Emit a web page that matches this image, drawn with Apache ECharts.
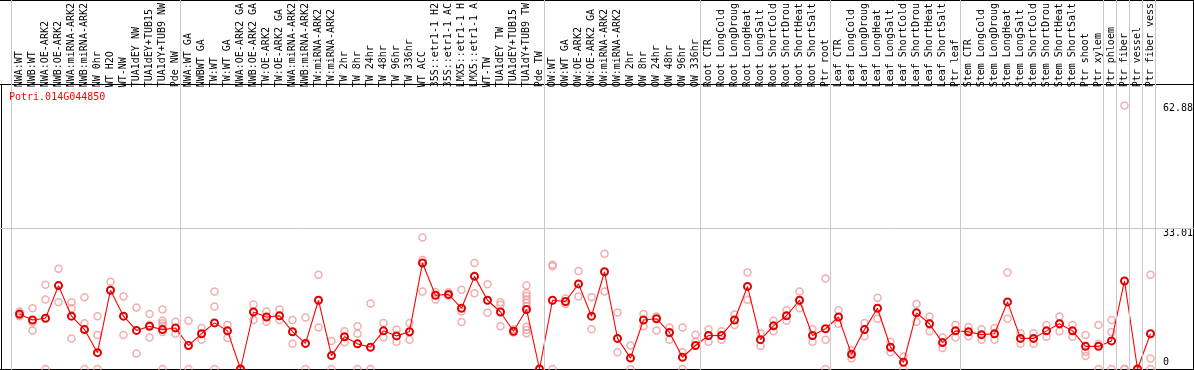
<!DOCTYPE html>
<html>
<head>
<meta charset="utf-8">
<script src="https://cdn.jsdelivr.net/npm/echarts@6/dist/echarts.min.js"></script>
<style>
html,body{margin:0;padding:0;background:#fff;}
#chart{width:1194px;height:370px;}
</style>
</head>
<body>
<div id="chart"></div>
<script>
const geneTitle = 'Potri.014G044850';

const categories = [
  'NWA:WT','NWB:WT','NWA:OE-ARK2','NWB:OE-ARK2','NWA:miRNA-ARK2','NWB:miRNA-ARK2','NW 0hr','WT H2O','WT-NW','TUA1dEY NW','TUA1dEY+TUB15','TUA1dY+TUB9 NW','Pde NW',
  'NWA:WT GA','NWBWT GA','TW:WT','TW:WT GA','NWA:OE-ARK2 GA','NWB:OE-ARK2 GA','TW:OE-ARK2','TW:OE-ARK2 GA','NWA:miRNA-ARK2','NWB:miRNA-ARK2','TW:miRNA-ARK2','TW:miRNA-ARK2','TW 2hr','TW 8hr','TW 24hr','TW 48hr','TW 96hr','TW 336hr','WT ACC','35S::etr1-1 H2','35S::etr1-1 AC','LMX5::etr1-1 H','LMX5::etr1-1 A','WT-TW','TUA1dEY TW','TUA1dEY+TUB15','TUA1dY+TUB9 TW','Pde TW',
  'OW:WT','OW:WT GA','OW:OE-ARK2','OW:OE-ARK2 GA','OW:miRNA-ARK2','OW:miRNA-ARK2','OW 2hr','OW 8hr','OW 24hr','OW 48hr','OW 96hr','OW 336hr',
  'Root CTR','Root LongCold','Root LongDroug','Root LongHeat','Root LongSalt','Root ShortCold','Root ShortDrou','Root ShortHeat','Root ShortSalt','Ptr root',
  'Leaf CTR','Leaf LongCold','Leaf LongDroug','Leaf LongHeat','Leaf LongSalt','Leaf ShortCold','Leaf ShortDrou','Leaf ShortHeat','Leaf ShortSalt','Ptr leaf',
  'Stem CTR','Stem LongCold','Stem LongDroug','Stem LongHeat','Stem LongSalt','Stem ShortCold','Stem ShortDrou','Stem ShortHeat','Stem ShortSalt','Ptr shoot','Ptr xylem',
  'Ptr phloem','Ptr fiber','Ptr vessel','Ptr fiber vess'
];

// group boundaries (index of first category of each group, plus the end)
const groupBreaks = [0, 13, 41, 53, 63, 73, 84, 85, 86, 87, 88];

const meanValues = [
  13.1, 11.7, 12.1, 19.9, 12.6, 9.4, 3.9, 18.8, 12.6, 9.2, 10.2, 9.4, 9.8,
  5.6, 8.4, 11.0, 9.1, 0, 13.6, 12.4, 12.7, 8.9, 6.1, 16.4, 3.2, 7.7, 6.0, 5.2, 9.1, 7.9, 8.9, 25.3, 17.6, 17.8, 14.5, 22.1, 16.4, 13.6, 9.0, 14.2, 0,
  16.4, 16.1, 20.3, 12.6, 23.2, 7.3, 2.6, 11.7, 12.0, 8.7, 2.8, 5.6,
  8.0, 8.0, 11.7, 19.7, 7.0, 10.3, 12.7, 16.4, 8.0, 9.6,
  12.4, 3.5, 9.4, 14.5, 5.2, 1.6, 13.4, 10.8, 6.3, 9.1,
  8.9, 8.2, 8.4, 16.0, 7.3, 7.3, 9.1, 10.8, 9.1, 5.4, 5.4,
  6.7, 21.0, 0, 8.4
];

const replicateValues = [
  [13.7, 12.9, 12.6], [14.5, 11.1, 9.2], [20.1, 16.6, 0], [23.9, 19.9, 15.9], [15.9, 14.5, 7.3], [17.1, 10.9, 0], [12.6, 8.1, 0], [20.8, 18.8], [17.3, 8.1], [14.7, 3.7], [13.1, 10.5, 7.5], [14.2, 11.5, 10.9, 10.3, 8.8, 0], [11.3, 8.4],
  [11.5, 0], [9.8, 7.0], [18.5, 14.9, 0], [10.5, 7.4], [0, 0], [15.4, 11.7], [13.7, 11.3], [14.2, 11.7], [11.7, 6.0], [12.3, 0], [22.5, 9.9], [6.7, 0], [9.0, 6.4], [10.2, 8.4, 0], [15.6, 0], [11.0, 7.6], [9.4, 6.5], [11.0, 7.0], [31.4, 26.0, 18.5], [18.3, 16.6], [18.3, 17.4], [18.9, 13.7, 11.2], [25.3, 18.1], [20.2, 13.4], [15.9, 15.3, 10.2], [9.5, 8.7], [19.9, 18.1, 17.4, 16.6, 15.8, 15.0, 10.1, 9.3, 8.5], [0],
  [24.9, 24.5, 0], [16.8, 15.5], [23.4, 17.3], [17.1, 9.5], [27.5, 18.5], [13.5, 4.0], [5.6, 0], [13.1, 10.2], [12.5, 9.2], [9.9, 7.0], [9.9, 4.0, 0], [8.2, 6.5],
  [9.5, 6.5], [9.0, 7.0], [13.0, 10.5], [23.0, 16.5], [8.5, 5.5], [11.5, 9.0], [14.0, 11.5], [18.5, 14.5], [9.5, 6.5], [21.6, 7.0, 0],
  [14.0, 10.8], [4.5, 2.5], [11.0, 7.8], [17.0, 12.0], [6.5, 4.0], [3.0, 0], [15.5, 11.3], [12.5, 9.0], [7.5, 5.0], [10.5, 7.5],
  [10.0, 7.8], [9.5, 7.0], [9.8, 7.0], [23.0, 12.0], [8.5, 6.0], [8.5, 6.0], [10.5, 7.7], [12.5, 9.0], [10.5, 7.7], [8.1, 4.1, 3.1], [10.5, 6.0, 0],
  [11.7, 8.8, 0], [62.88, 0, 0], [0, 0], [22.5, 2.5, 0]
];

const yTickValues = [62.88, 33.01, 0];
const yMax = 66.02;

const replicatePoints = [];
replicateValues.forEach((reps, i) => reps.forEach(v => replicatePoints.push([i, v])));

const chart = echarts.init(document.getElementById('chart'), null, {renderer: 'canvas'});
const mono = 'DejaVu Sans Mono';

const option = {
  animation: false,
  backgroundColor: '#ffffff',
  title: {
    text: geneTitle,
    left: 4, top: 87,
    textStyle: {fontFamily: mono, fontSize: 10, fontWeight: 'normal', color: '#ff0000'}
  },
  grid: [
    {left: 13, top: 88, width: 1144, height: 281},
    {left: 11.5, top: 0, width: 1144, height: 370},
    {left: 0, top: 88, width: 1194, height: 281}
  ],
  xAxis: [
    {
      type: 'category', gridIndex: 0, position: 'top', data: categories, boundaryGap: true,
      axisLine: {show: false}, axisTick: {show: false}, splitLine: {show: false},
      axisLabel: {
        interval: 0, rotate: 90, margin: 5, hideOverlap: false,
        fontFamily: mono, fontSize: 10, color: '#000'
      }
    },
    {type: 'value', gridIndex: 1, min: 0, max: categories.length, show: false},
    {type: 'value', gridIndex: 2, min: 0, max: 1, show: false}
  ],
  yAxis: [
    {type: 'value', gridIndex: 0, min: 0, max: yMax, show: false},
    {type: 'value', gridIndex: 1, min: 0, max: 1, show: false},
    {type: 'value', gridIndex: 2, min: 0, max: yMax, show: false}
  ],
  series: [
    {
      type: 'line', xAxisIndex: 1, yAxisIndex: 1, data: [[0, 0]], symbol: 'none', silent: true,
      lineStyle: {opacity: 0},
      markLine: {
        silent: true, symbol: 'none', animation: false,
        label: {show: false},
        lineStyle: {color: '#c8c8c8', width: 1, type: 'solid'},
        data: groupBreaks.map(b => ({xAxis: b}))
      }
    },
    {
      type: 'line', xAxisIndex: 2, yAxisIndex: 2, data: [[0, 0]], symbol: 'none', silent: true,
      lineStyle: {opacity: 0},
      markLine: {
        silent: true, symbol: 'none', animation: false,
        label: {show: false},
        lineStyle: {color: '#c8c8c8', width: 1, type: 'solid'},
        data: [{yAxis: yTickValues[1]}]
      }
    },
    {
      type: 'scatter', xAxisIndex: 0, yAxisIndex: 0, data: replicatePoints,
      symbol: 'circle', symbolSize: 7, silent: true,
      itemStyle: {color: 'rgba(255,255,255,0)', borderColor: '#ee9a9a', borderWidth: 1.5}
    },
    {
      type: 'line', xAxisIndex: 0, yAxisIndex: 0, data: meanValues,
      symbol: 'circle', symbolSize: 7, silent: true,
      lineStyle: {color: '#ff0000', width: 1.1},
      itemStyle: {color: 'rgba(255,255,255,0)', borderColor: '#e00000', borderWidth: 2}
    }
  ]
};
chart.setOption(option);

// frame lines and y tick labels placed via the y scale
const graphics = [
  {type: 'line', shape: {x1: 0, y1: 0.5, x2: 1194, y2: 0.5}, style: {stroke: '#000', lineWidth: 1}, silent: true},
  {type: 'line', shape: {x1: 0, y1: 84.5, x2: 1194, y2: 84.5}, style: {stroke: '#000', lineWidth: 1}, silent: true},
  {type: 'line', shape: {x1: 1.5, y1: 84, x2: 1.5, y2: 370}, style: {stroke: '#000', lineWidth: 1}, silent: true},
  {type: 'line', shape: {x1: 1193.5, y1: 0, x2: 1193.5, y2: 370}, style: {stroke: '#000', lineWidth: 1}, silent: true},
  {type: 'line', shape: {x1: 0, y1: 369.5, x2: 1194, y2: 369.5}, style: {stroke: '#000', lineWidth: 1}, silent: true}
];
yTickValues.forEach(v => {
  const py = chart.convertToPixel({yAxisIndex: 0}, v);
  const atBottom = v === 0;
  graphics.push({
    type: 'text', x: 1163, y: atBottom ? py - 2 : py - 2, silent: true,
    style: {
      text: String(v), fill: '#000', font: '10px "' + mono + '"',
      textAlign: 'left', textVerticalAlign: atBottom ? 'bottom' : 'top'
    }
  });
});
chart.setOption({graphic: graphics});
</script>
</body>
</html>
